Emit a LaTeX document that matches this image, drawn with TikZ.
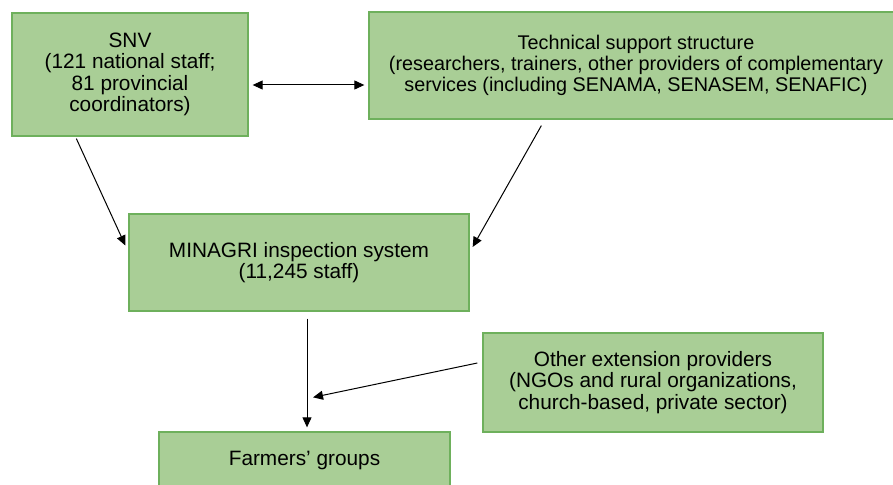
\documentclass[tikz,border=0pt]{standalone}
\usepackage{fontspec}
\setmainfont{Liberation Sans}
\usetikzlibrary{arrows.meta,calc}
\definecolor{boxfill}{RGB}{169,206,150}
\definecolor{boxdraw}{RGB}{110,176,92}
\begin{document}
\begin{tikzpicture}[x=1pt,y=-1pt,
  box/.style={draw=boxdraw,fill=boxfill,line width=1.3pt,rectangle,inner sep=0pt,align=center,
    font=\fontsize{20.8}{21.5}\selectfont},
  arr/.style={line width=1pt,-{Triangle[length=10pt,width=9pt]}},
  darr/.style={line width=1pt,{Triangle[length=10pt,width=9pt]}-{Triangle[length=10pt,width=9pt]}}]
\useasboundingbox (0,0) rectangle (893,484);
\clip (0,0) rectangle (893,484);
\node[box,minimum width=236pt,minimum height=123pt] (snv) at (130,74.5)
  {SNV\\(121 national staff;\\81 provincial\\coordinators)};
\node[box,minimum width=534pt,minimum height=107pt,font=\fontsize{19.8}{20.8}\selectfont] (tech) at (636,65.5)
  {Technical support structure\\(researchers, trainers, other providers of complementary\\services (including SENAMA, SENASEM, SENAFIC)};
\node[box,minimum width=340pt,minimum height=97pt] (min) at (299,262.5)
  {MINAGRI inspection system\\(11,245 staff)};
\node[box,minimum width=340pt,minimum height=99pt] (other) at (653,382.5)
  {Other extension providers\\(NGOs and rural organizations,\\church-based, private sector)};
\node[box,minimum width=291pt,minimum height=56pt] (farm) at (304.5,460)
  {Farmers’ groups};
\coordinate (join) at ($(farm.north)+(8.5,-34)$);
\draw[darr] ($(snv.east)+(4,10.5)$) -- ($(tech.west)+(-4,19.5)$);
\draw[arr] ($(snv.south west)+(65,2)$) -- ($(min.west)+(-3,-17)$);
\draw[arr] ($(tech.south west)+(173,6)$) -- ($(min.east)+(3,-15.5)$);
\draw[arr] ($(min.south)+(8,7)$) -- ($(farm.north)+(2.5,-4)$);
\draw[arr] ($(other.west)+(-5,-19.5)$) -- (join);
\end{tikzpicture}
\end{document}
